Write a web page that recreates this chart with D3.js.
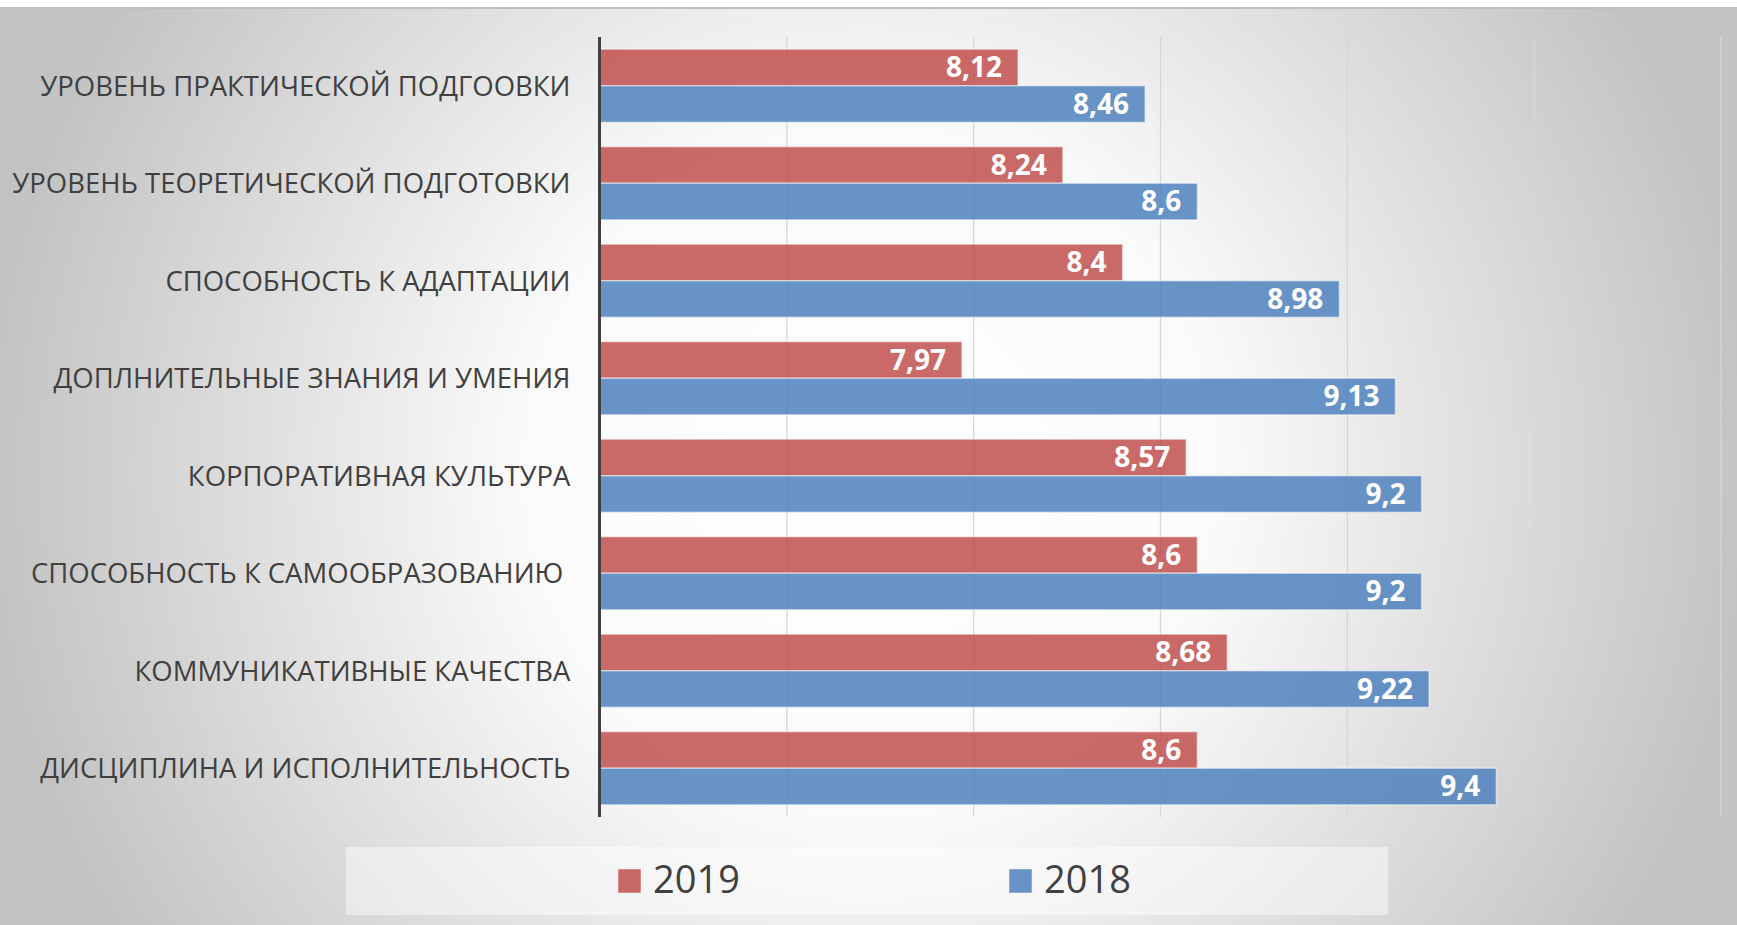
<!DOCTYPE html>
<html>
<head>
<meta charset="utf-8">
<script src="https://cdn.jsdelivr.net/npm/d3@7"></script>
<style>
  html, body { margin: 0; padding: 0; background: #ffffff; }
  svg { display: block; }
  text { font-family: "Open Sans", "Noto Sans", sans-serif; }
</style>
</head>
<body>
<svg id="chart" width="1737" height="925"></svg>
<script>
// ---- data ----
const categories = [
  "УРОВЕНЬ ПРАКТИЧЕСКОЙ ПОДГООВКИ",
  "УРОВЕНЬ ТЕОРЕТИЧЕСКОЙ ПОДГОТОВКИ",
  "СПОСОБНОСТЬ К АДАПТАЦИИ",
  "ДОПЛНИТЕЛЬНЫЕ ЗНАНИЯ И УМЕНИЯ",
  "КОРПОРАТИВНАЯ КУЛЬТУРА",
  "СПОСОБНОСТЬ К САМООБРАЗОВАНИЮ ",
  "КОММУНИКАТИВНЫЕ КАЧЕСТВА",
  "ДИСЦИПЛИНА И ИСПОЛНИТЕЛЬНОСТЬ"
];
const seriesNames = ["2019", "2018"];
const values2019 = [8.12, 8.24, 8.4, 7.97, 8.57, 8.6, 8.68, 8.6];
const values2018 = [8.46, 8.6, 8.98, 9.13, 9.2, 9.2, 9.22, 9.4];
const xMin = 7, xMax = 10;
const gridValues = [7.5, 8, 8.5, 9, 9.5, 10];

// ---- layout ----
const W = 1737, H = 925;
const plot = { left: 599.5, right: 1720.5, top: 37, bottom: 817 };
const colors = { "2019": "#C0504D", "2018": "#4F81BD" };
const seriesValues = { "2019": values2019, "2018": values2018 };

const svg = d3.select("#chart");
const defs = svg.append("defs");

// background radial gradient
const bg = defs.append("radialGradient").attr("id", "bgGrad")
  .attr("gradientUnits", "userSpaceOnUse")
  .attr("cx", 870).attr("cy", 470).attr("r", 880);
bg.append("stop").attr("offset", 0).attr("stop-color", "#ffffff");
bg.append("stop").attr("offset", 0.4).attr("stop-color", "#fafafa");
bg.append("stop").attr("offset", 1).attr("stop-color", "#c3c3c3");

// gridline vertical gradient
const gg = defs.append("linearGradient").attr("id", "gridGrad")
  .attr("gradientUnits", "userSpaceOnUse")
  .attr("x1", 0).attr("y1", plot.top).attr("x2", 0).attr("y2", plot.bottom);
gg.append("stop").attr("offset", 0).attr("stop-color", "#d6d6d6");
gg.append("stop").attr("offset", 1).attr("stop-color", "#858585");

svg.append("rect").attr("x", 0).attr("y", 0).attr("width", W).attr("height", H).attr("fill", "#ffffff");
svg.append("rect").attr("x", 0).attr("y", 8).attr("width", W).attr("height", H - 8).attr("fill", "url(#bgGrad)");
svg.append("rect").attr("x", 0).attr("y", 7).attr("width", W).attr("height", 2).attr("fill", "#bfbfbf");

// ---- scales ----
const x = d3.scaleLinear().domain([xMin, xMax]).range([plot.left, plot.right]);
const y = d3.scaleBand().domain(categories).range([plot.top, plot.bottom])
  .paddingInner(0.25).paddingOuter(0.125);
const ySub = d3.scaleBand().domain(seriesNames).range([0, y.bandwidth()]);

// ---- gridlines ----
const gridAxis = d3.axisBottom(x).tickValues(gridValues)
  .tickSize(-(plot.bottom - plot.top)).tickFormat("");
const grid = svg.append("g").attr("transform", `translate(0,${plot.bottom})`).call(gridAxis);
grid.select(".domain").remove();
grid.selectAll(".tick line").attr("stroke", "url(#gridGrad)").attr("stroke-width", 1.3);

// ---- bars ----
const groups = svg.append("g").selectAll("g.cat")
  .data(categories).join("g").attr("class", "cat")
  .attr("transform", d => `translate(0,${y(d)})`);

const fmt = v => String(v).replace(".", ",");

seriesNames.forEach(s => {
  groups.append("rect")
    .attr("x", x(xMin))
    .attr("y", ySub(s))
    .attr("width", (d, i) => x(seriesValues[s][i]) - x(xMin))
    .attr("height", ySub.bandwidth())
    .attr("fill", colors[s])
    .attr("fill-opacity", 0.85)
    .attr("stroke", "#ffffff")
    .attr("stroke-opacity", 0.45)
    .attr("stroke-width", 1.5);
  groups.append("text")
    .attr("x", (d, i) => x(seriesValues[s][i]) - 16)
    .attr("y", ySub(s) + ySub.bandwidth() / 2 + 9.8)
    .attr("text-anchor", "end")
    .attr("font-size", 28)
    .attr("font-weight", "bold")
    .attr("fill", "#ffffff")
    .text((d, i) => fmt(seriesValues[s][i]));
});

// ---- category axis ----
const yAxis = d3.axisLeft(y).tickSize(0).tickPadding(29);
const ya = svg.append("g").attr("transform", `translate(${plot.left},0)`).call(yAxis);
ya.select(".domain").remove();
ya.selectAll(".tick text")
  .attr("font-family", "\"Open Sans\", sans-serif")
  .attr("font-size", 27.5)
  .attr("fill", "#404040")
  .attr("dy", "0.36em")
  .style("white-space", "pre");

// axis line
svg.append("line")
  .attr("x1", x(xMin)).attr("x2", x(xMin))
  .attr("y1", plot.top).attr("y2", plot.bottom)
  .attr("stroke", "#404040").attr("stroke-width", 3);

// ---- legend ----
svg.append("rect").attr("x", 346).attr("y", 847).attr("width", 1042).attr("height", 68)
  .attr("fill", "#ffffff").attr("fill-opacity", 0.45);
const legendX = { "2019": 618, "2018": 1009 };
const lg = svg.append("g").selectAll("g").data(seriesNames).join("g")
  .attr("transform", d => `translate(${legendX[d]},869)`);
lg.append("rect").attr("width", 23).attr("height", 24)
  .attr("fill", d => colors[d]).attr("fill-opacity", 0.85)
  .attr("stroke", "#ffffff").attr("stroke-opacity", 0.45);
lg.append("text").attr("x", 35).attr("y", 24)
  .attr("font-size", 38).attr("fill", "#404040")
  .text(d => d);
</script>
</body>
</html>
